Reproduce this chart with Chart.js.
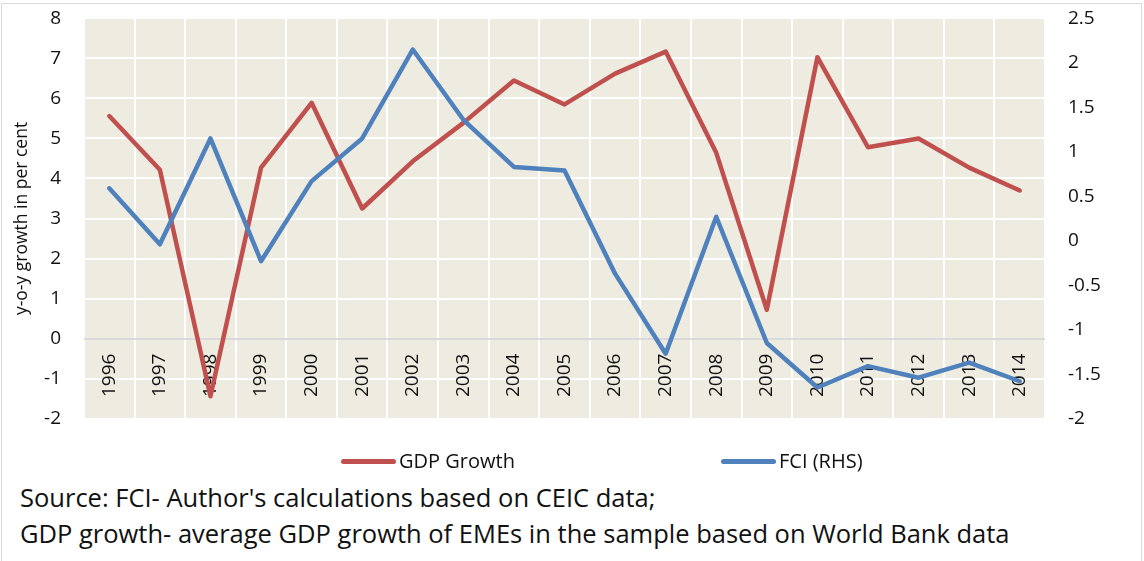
<!DOCTYPE html>
<html>
<head>
<meta charset="utf-8">
<title>GDP Growth and FCI</title>
<script src="https://cdn.jsdelivr.net/npm/chart.js@4/dist/chart.umd.min.js"></script>
<style>
  body { margin: 0; background: #fff; font-family: "Open Sans", sans-serif; color: #111; }
  #wrap { position: relative; width: 1144px; height: 561px; overflow: hidden; }
  #frame { position: absolute; left: 1px; top: 3px; width: 1139px; height: 600px; border: 1px solid #d9d9d9; }
  #chart { position: absolute; left: 0; top: -16px; }
  .leg { position: absolute; top: 448px; font-size: 20px; line-height: 26px; white-space: nowrap; }
  .leg span { display: inline-block; width: 55px; height: 5px; border-radius: 3px; vertical-align: middle; margin-right: 3px; position: relative; top: -1px; }
  #source { position: absolute; left: 20px; top: 479px; font-size: 25.5px; line-height: 36px; white-space: nowrap; }
</style>
</head>
<body>
<div id="wrap">
  <div id="frame"></div>
  <canvas id="chart" width="1144" height="469"></canvas>
  <div class="leg" style="left:341px"><span style="background:#c0504d"></span>GDP Growth</div>
  <div class="leg" style="left:721px"><span style="background:#4f81bd"></span>FCI (RHS)</div>
  <div id="source">Source: FCI- Author's calculations based on CEIC data;<br>GDP growth- average GDP growth of EMEs in the sample based on World Bank data</div>
</div>
<script>
// данные
const years = ['1996', '1997', '1998', '1999', '2000', '2001', '2002', '2003', '2004', '2005',
               '2006', '2007', '2008', '2009', '2010', '2011', '2012', '2013', '2014'];
const gdpGrowth = [5.56, 4.22, -1.44, 4.27, 5.89, 3.25, 4.43, 5.39, 6.45, 5.85,
                   6.62, 7.17, 4.64, 0.72, 7.03, 4.78, 5.0, 4.27, 3.7];
const fci = [0.59, -0.04, 1.15, -0.23, 0.67, 1.15, 2.15, 1.36, 0.83, 0.79,
             -0.37, -1.27, 0.27, -1.15, -1.65, -1.41, -1.54, -1.37, -1.58];
const leftTicks = { min: -2, max: 8, step: 1 };
const rightTicks = { min: -2, max: 2.5, step: 0.5 };

const tickFont = { family: '"Open Sans", sans-serif', size: 19 };

// бежевый фон области построения
const plotBg = {
    id: 'plotBg',
    beforeDraw(chart) {
        const a = chart.chartArea;
        const ctx = chart.ctx;
        ctx.save();
        ctx.fillStyle = '#eeece1';
        ctx.fillRect(a.left, a.top, a.right - a.left, a.bottom - a.top);
        ctx.restore();
    }
};

const ctx = document.getElementById('chart').getContext('2d');
new Chart(ctx, {
    type: 'line',
    data: {
        labels: years,
        datasets: [{
            label: 'GDP Growth',
            data: gdpGrowth,
            yAxisID: 'y',
            borderColor: '#c0504d',
            backgroundColor: '#c0504d',
            borderWidth: 4.5,
            pointRadius: 0,
            tension: 0,
            borderCapStyle: 'round',
            borderJoinStyle: 'round',
            order: 2
        }, {
            label: 'FCI (RHS)',
            data: fci,
            yAxisID: 'y1',
            borderColor: '#4f81bd',
            backgroundColor: '#4f81bd',
            borderWidth: 4.5,
            pointRadius: 0,
            tension: 0,
            borderCapStyle: 'round',
            borderJoinStyle: 'round',
            order: 1
        }]
    },
    options: {
        responsive: false,
        animation: false,
        devicePixelRatio: 1,
        layout: { padding: { left: 0, right: 0, top: 2, bottom: 10 } },
        plugins: { legend: { display: false }, tooltip: { enabled: false } },
        scales: {
            // сетка по категориям
            x: {
                type: 'category',
                offset: true,
                position: { y: 0 },
                grid: { color: '#ffffff', lineWidth: 2, offset: true, drawTicks: false },
                border: { display: false },
                ticks: { display: false }
            },
            // подписи лет поверх линий
            x2: {
                type: 'category',
                axis: 'x',
                offset: true,
                position: { y: 0 },
                z: 1,
                grid: { display: false, drawTicks: false },
                border: { display: false },
                ticks: {
                    font: tickFont, color: '#111', padding: 15,
                    maxRotation: 90, minRotation: 90, autoSkip: false
                }
            },
            y: {
                position: 'left',
                min: leftTicks.min,
                max: leftTicks.max,
                afterFit(scale) { scale.width = 84; },
                ticks: { stepSize: leftTicks.step, font: tickFont, color: '#111', padding: 23 },
                grid: {
                    drawTicks: false,
                    lineWidth: 2,
                    color: c => c.tick.value === 0 ? '#d9d9d9' : '#ffffff'
                },
                border: { display: false },
                title: {
                    display: true,
                    text: 'y-o-y growth in per cent',
                    font: { family: '"Open Sans", sans-serif', size: 17.5 },
                    color: '#111',
                    padding: { top: 12, bottom: 0 }
                }
            },
            y1: {
                position: 'right',
                min: rightTicks.min,
                max: rightTicks.max,
                afterFit(scale) { scale.width = 99; },
                ticks: {
                    stepSize: rightTicks.step, font: tickFont, color: '#111', padding: 23,
                    callback: v => String(Math.round(v * 10) / 10)
                },
                grid: { display: false, drawTicks: false },
                border: { display: false }
            }
        }
    },
    plugins: [plotBg]
});
</script>
</body>
</html>
